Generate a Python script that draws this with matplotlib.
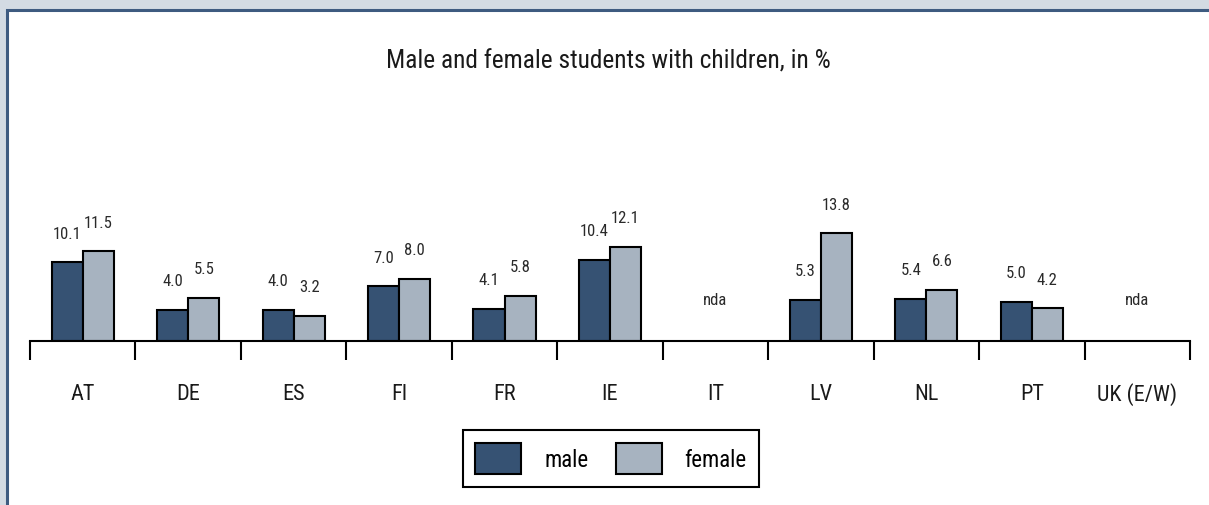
import matplotlib.pyplot as plt
import numpy as np
from matplotlib import font_manager
from matplotlib.patches import Rectangle

# data
countries = ['AT', 'DE', 'ES', 'FI', 'FR', 'IE', 'IT', 'LV', 'NL', 'PT', 'UK (E/W)']
male = [10.1, 4.0, 4.0, 7.0, 4.1, 10.4, None, 5.3, 5.4, 5.0, None]
female = [11.5, 5.5, 3.2, 8.0, 5.8, 12.1, None, 13.8, 6.6, 4.2, None]
title = 'Male and female students with children, in %'
missing_label = 'nda'

# pick a condensed font if there is one
have = set(f.name for f in font_manager.fontManager.ttflist)
cands = ['Roboto Condensed', 'Archivo Narrow', 'PT Sans Narrow', 'Fira Sans Condensed',
         'Liberation Sans Narrow']
fams = [c for c in cands if c in have][:1] + ['DejaVu Sans']
plt.rcParams['font.family'] = fams

W, H = 1209, 506
fig = plt.figure(figsize=(W / 100, H / 100), dpi=100)
fig.patch.set_facecolor('#d3dbe3')
fig.patches.append(Rectangle((6.5 / W, -0.1), 1.5, 1.1 - 10.5 / H, transform=fig.transFigure,
                             facecolor='white', edgecolor='#3e5b80', linewidth=2.2, zorder=-5))

ymax = 25
ax = fig.add_axes([30 / W, (H - 342) / H, 1160 / W, 7.8 * ymax / H])
ax.set_facecolor('none')
ax.set_xlim(-0.5, len(countries) - 0.5)
ax.set_ylim(0, ymax)

w = 0.295
for i, (m, f) in enumerate(zip(male, female)):
    if m is None:
        ax.text(i, 5.3, missing_label, ha='center', va='center', fontsize=12, color='#2a2a2a')
        continue
    ax.bar(i - w / 2, m, w, color='#365273', edgecolor='black', linewidth=1.5,
           label='male' if i == 0 else None)
    ax.bar(i + w / 2, f, w, color='#a7b3c0', edgecolor='black', linewidth=1.5,
           label='female' if i == 0 else None)
    ax.annotate(f'{m:.1f}', (i - w / 2, m), xytext=(0, 21), textcoords='offset points',
                ha='center', va='center', fontsize=12, color='#2a2a2a')
    ax.annotate(f'{f:.1f}', (i + w / 2, f), xytext=(0, 21), textcoords='offset points',
                ha='center', va='center', fontsize=12, color='#2a2a2a')

for i, c in enumerate(countries):
    ax.text(i, -53 / 7.8, c, ha='center', va='center', fontsize=16, color='#1a1a1a')

for s in ['top', 'right', 'left']:
    ax.spines[s].set_visible(False)
ax.spines['bottom'].set_linewidth(1.5)
ax.set_yticks([])
ax.set_xticks(np.arange(-0.5, len(countries), 1.0))
ax.set_xticklabels([])
ax.tick_params(axis='x', direction='out', length=13.5, width=1.5)

fig.text(608 / W, 1 - 62 / H, title, ha='center', va='center', fontsize=18.3, color='#1a1a1a')

leg = ax.legend(loc='center', bbox_to_anchor=(611 / W, 1 - 459.5 / H), bbox_transform=fig.transFigure,
                ncol=2, fontsize=16.5, frameon=True, fancybox=False, framealpha=1, edgecolor='black',
                handlelength=2.0, handleheight=1.75, columnspacing=1.2, handletextpad=1.0,
                borderpad=0.55)
leg.get_frame().set_linewidth(1.5)

fig.savefig('out.png', dpi=100, facecolor=fig.get_facecolor())
